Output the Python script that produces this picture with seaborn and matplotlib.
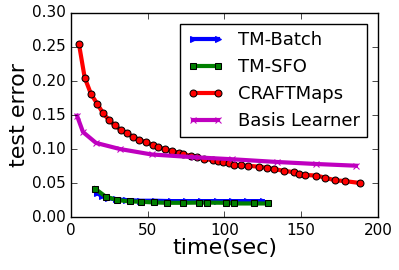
import pandas as pd
import numpy as np
import seaborn as sns
import matplotlib.pyplot as plt

# values
batch_t = [17.1, 20, 24, 29, 36, 45, 55, 65, 75, 85, 95, 105, 115, 125]
batch_err = [0.035, 0.031, 0.028, 0.026, 0.025, 0.024, 0.024, 0.0235, 0.0235,
             0.0235, 0.0235, 0.0235, 0.0235, 0.0235]

sfo_t = [15.5, 22.6, 30.2, 38.3, 45.7, 54.4, 62.3, 73.0, 83.5, 88.8, 101.0,
         106.1, 119.5, 128.2]
sfo_err = [0.042, 0.030, 0.025, 0.023, 0.0225, 0.0215, 0.021, 0.021, 0.0213,
           0.0213, 0.021, 0.020, 0.020, 0.020]

craft_t = [5.2, 8.9, 13.0, 17.2, 20.8, 25.0, 28.4, 32.4, 36.5, 40.4, 44.3, 48.9,
           53.4, 56.9, 61.2, 65.6, 70.4, 73.2, 78.2, 82.3, 86.6, 92.5, 95.9,
           99.2, 102.9, 106.4, 110.7, 115.1, 122.5, 127.7, 132.2, 138.8, 145.3,
           148.5, 152.2, 160.0, 165.5, 172.2, 178.3, 188.5]
craft_err = [0.254, 0.205, 0.181, 0.166, 0.153, 0.142, 0.135, 0.128, 0.1235,
             0.1176, 0.114, 0.110, 0.106, 0.1025, 0.100, 0.097, 0.0946, 0.0926,
             0.0897, 0.0882, 0.0858, 0.0833, 0.0819, 0.0804, 0.079, 0.077,
             0.076, 0.0755, 0.074, 0.0725, 0.0706, 0.068, 0.066, 0.064, 0.062,
             0.061, 0.058, 0.054, 0.053, 0.050]

basis_t = [3.9, 7.8, 16.3, 31.9, 52.6, 80, 105, 134, 160, 185.7]
basis_err = [0.149, 0.125, 0.109, 0.100, 0.092, 0.088, 0.085, 0.081, 0.078, 0.0755]

plt.style.use('classic')
plt.rcParams['font.family'] = ['DejaVu Sans']

fig = plt.figure(figsize=(3.99, 2.70), dpi=100, facecolor='white')
ax = fig.add_axes([0.178, 0.196, 0.769, 0.756])

sns.lineplot(x=batch_t, y=batch_err, ax=ax, color='blue', lw=3, marker='>',
             markersize=4, markeredgecolor='blue', label='TM-Batch')
sns.lineplot(x=sfo_t, y=sfo_err, ax=ax, color='green', lw=3, marker='s',
             markersize=5, markeredgecolor='black', label='TM-SFO')
sns.lineplot(x=craft_t, y=craft_err, ax=ax, color='red', lw=3, marker='o',
             markersize=5, markeredgecolor='black', label='CRAFTMaps')
sns.lineplot(x=basis_t, y=basis_err, ax=ax, color='m', lw=3, marker='x',
             markersize=4, markeredgecolor='m', label='Basis Learner')

ax.set_xlim(0, 200)
ax.set_ylim(0, 0.30)
ax.set_xticks([0, 50, 100, 150, 200])
ax.set_yticks([0, 0.05, 0.10, 0.15, 0.20, 0.25, 0.30])
ax.set_yticklabels(['0.00', '0.05', '0.10', '0.15', '0.20', '0.25', '0.30'])
ax.tick_params(labelsize=11)
ax.set_xlabel('time(sec)', fontsize=16, labelpad=0)
ax.set_ylabel('test error', fontsize=16, labelpad=2)
ax.legend(loc='upper right', fontsize=13, numpoints=2, borderaxespad=0.6)

fig.savefig('out.png', dpi=100, facecolor='white')
